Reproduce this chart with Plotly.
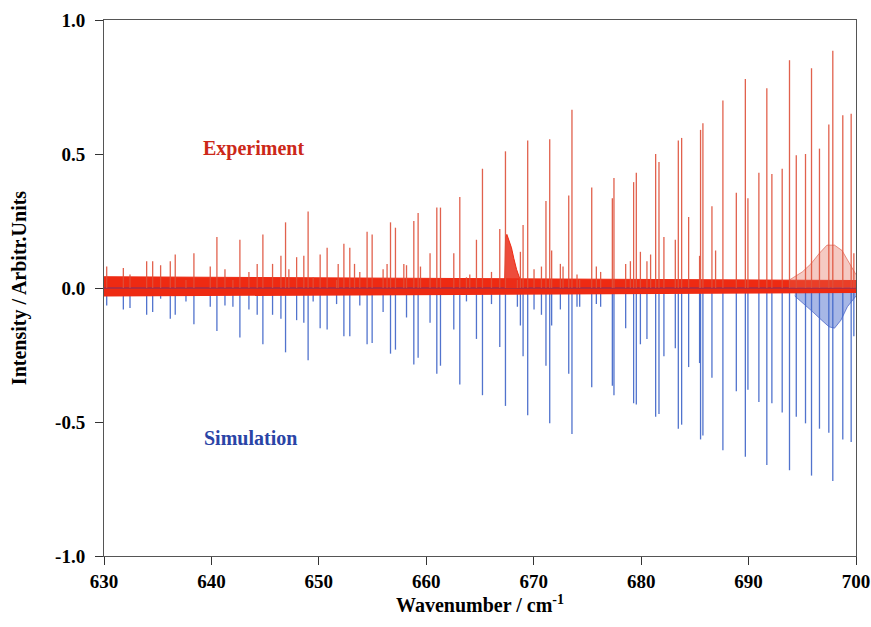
import plotly.graph_objects as go

# ---- data ----
peak_wavenumber = [
    630.25, 631.80, 632.42, 633.97, 634.53, 635.27, 636.17, 636.63, 637.63, 638.37,
    639.89, 640.51, 641.26, 642.00, 642.65, 643.49, 644.26, 644.79, 645.69, 646.47,
    646.90, 647.21, 647.93, 648.60, 649.00, 649.47, 650.12, 650.77, 651.65, 651.80,
    652.33, 652.88, 653.32, 653.81, 654.49, 654.96, 655.98, 656.35, 656.67, 657.13,
    657.91, 658.16, 658.84, 659.24, 659.46, 660.35, 660.98, 661.32, 662.56, 663.12,
    663.74, 664.05, 664.67, 665.23, 666.07, 666.84, 667.37, 668.48, 668.76, 669.01,
    669.44, 670.03, 670.72, 671.14, 671.49, 671.67, 672.48, 672.73, 673.26, 673.56,
    674.03, 674.28, 675.40, 675.83, 676.23, 677.32, 677.47, 678.56, 679.00, 679.30,
    679.55, 679.93, 680.54, 680.88, 681.35, 681.66, 682.12, 683.18, 683.46, 683.77,
    684.42, 685.44, 685.53, 685.75, 686.59, 686.93, 687.61, 688.86, 689.70, 689.94,
    690.96, 691.70, 692.17, 693.13, 693.81, 694.44, 695.30, 695.86, 696.60, 697.47,
    697.84, 698.77, 699.55, 699.80,
]
experiment_intensity = [
    0.08, 0.075, 0.05, 0.10, 0.10, 0.085, 0.10, 0.125, 0.03, 0.13,
    0.08, 0.19, 0.07, 0.03, 0.18, 0.06, 0.09, 0.20, 0.09, 0.12,
    0.245, 0.07, 0.115, 0.12, 0.285, 0.04, 0.125, 0.15, 0.03, 0.09,
    0.165, 0.15, 0.09, 0.06, 0.21, 0.20, 0.07, 0.09, 0.245, 0.225,
    0.09, 0.085, 0.25, 0.28, 0.08, 0.13, 0.30, 0.30, 0.13, 0.34,
    0.04, 0.05, 0.18, 0.445, 0.06, 0.22, 0.51, 0.03, 0.135, 0.235,
    0.55, 0.07, 0.08, 0.325, 0.555, 0.14, 0.09, 0.08, 0.345, 0.665,
    0.05, 0.03, 0.375, 0.08, 0.06, 0.335, 0.41, 0.09, 0.10, 0.395,
    0.43, 0.135, 0.10, 0.125, 0.50, 0.47, 0.19, 0.18, 0.55, 0.56,
    0.265, 0.12, 0.59, 0.615, 0.305, 0.14, 0.70, 0.355, 0.78, 0.335,
    0.43, 0.745, 0.425, 0.445, 0.85, 0.495, 0.50, 0.82, 0.52, 0.61,
    0.885, 0.645, 0.65, 0.13,
]
simulation_intensity = [
    -0.065, -0.08, -0.075, -0.10, -0.09, -0.04, -0.115, -0.10, -0.05, -0.135,
    -0.07, -0.16, -0.065, -0.07, -0.185, -0.08, -0.10, -0.21, -0.10, -0.115,
    -0.24, 0.0, -0.12, -0.13, -0.27, -0.05, -0.15, -0.155, -0.06, 0.0,
    -0.18, -0.18, 0.0, -0.065, -0.21, -0.205, -0.09, 0.0, -0.245, -0.23,
    0.0, -0.11, -0.285, -0.26, 0.0, -0.13, -0.32, -0.29, -0.155, -0.36,
    -0.05, 0.0, -0.19, -0.40, -0.06, -0.22, -0.44, -0.07, -0.14, -0.255,
    -0.475, -0.08, -0.10, -0.29, -0.505, -0.14, -0.08, 0.0, -0.32, -0.545,
    -0.07, -0.07, -0.37, -0.06, -0.07, -0.365, -0.40, -0.15, 0.0, -0.43,
    -0.435, -0.21, -0.19, 0.0, -0.48, -0.47, -0.255, -0.225, -0.525, -0.51,
    -0.295, -0.28, -0.565, -0.55, -0.335, 0.0, -0.605, -0.385, -0.63, -0.38,
    -0.425, -0.66, -0.43, -0.465, -0.68, -0.48, -0.505, -0.70, -0.525, -0.54,
    -0.72, -0.565, -0.575, -0.18,
]

# broad features (band heads)
exp_hump1_x = [667.30, 667.38, 667.50, 667.70, 667.93, 668.15, 668.40, 668.70]
exp_hump1_y = [0.03, 0.19, 0.20, 0.18, 0.15, 0.11, 0.07, 0.035]
exp_hump2_x = [693.8, 695.0, 695.8, 696.6, 697.3, 698.0, 698.7, 699.4, 700.0]
exp_hump2_y = [0.03, 0.06, 0.09, 0.13, 0.16, 0.16, 0.14, 0.09, 0.05]
sim_hump_x = [694.3, 695.2, 696.0, 696.8, 697.5, 698.0, 698.6, 699.2, 700.0]
sim_hump_y = [-0.03, -0.06, -0.09, -0.12, -0.145, -0.15, -0.12, -0.07, -0.03]

# experimental noise envelope
noise_x = [630, 640, 650, 660, 670, 680, 690, 700]
noise_upper = [0.042, 0.040, 0.038, 0.035, 0.033, 0.030, 0.028, 0.028]
noise_lower = [-0.032, -0.030, -0.028, -0.025, -0.023, -0.021, -0.019, -0.019]

x_ticks = [630, 640, 650, 660, 670, 680, 690, 700]
y_ticks = [-1.0, -0.5, 0.0, 0.5, 1.0]
y_tick_labels = ["-1.0", "-0.5", "0.0", "0.5", "1.0"]


def sticks(xs, ys):
    sx, sy = [], []
    for x, y in zip(xs, ys):
        if y == 0:
            continue
        sx += [x, x, None]
        sy += [0, y, None]
    return sx, sy


RED_STICK = "rgba(222,80,58,0.9)"
RED_BAND = "#ee2a12"
BLUE_STICK = "rgba(62,100,200,0.9)"

fig = go.Figure()

# simulation
fig.add_trace(go.Scatter(x=sim_hump_x, y=sim_hump_y, mode="lines", fill="tozeroy",
                         fillcolor="rgba(60,95,200,0.45)", line=dict(color="rgba(40,70,190,0.6)", width=1),
                         hoverinfo="skip"))
sx, sy = sticks(peak_wavenumber, simulation_intensity)
fig.add_trace(go.Scatter(x=sx, y=sy, mode="lines",
                         line=dict(color=BLUE_STICK, width=1.3), hoverinfo="skip"))

# experiment noise band
fig.add_trace(go.Scatter(x=noise_x, y=noise_lower, mode="lines",
                         line=dict(color=RED_BAND, width=0), hoverinfo="skip"))
fig.add_trace(go.Scatter(x=noise_x, y=noise_upper, mode="lines", fill="tonexty",
                         fillcolor=RED_BAND, line=dict(color=RED_BAND, width=1),
                         hoverinfo="skip"))
# blue baseline
fig.add_trace(go.Scatter(x=[630, 700], y=[0, 0], mode="lines",
                         line=dict(color="rgba(40,50,170,0.6)", width=1.2), hoverinfo="skip"))

# experiment humps and sticks
fig.add_trace(go.Scatter(x=exp_hump1_x, y=exp_hump1_y, mode="lines", fill="tozeroy",
                         fillcolor="rgba(235,45,25,0.85)", line=dict(color=RED_BAND, width=1),
                         hoverinfo="skip"))
fig.add_trace(go.Scatter(x=exp_hump2_x, y=exp_hump2_y, mode="lines", fill="tozeroy",
                         fillcolor="rgba(225,100,80,0.35)", line=dict(color="rgba(220,80,60,0.6)", width=1),
                         hoverinfo="skip"))
ex, ey = sticks(peak_wavenumber, experiment_intensity)
fig.add_trace(go.Scatter(x=ex, y=ey, mode="lines",
                         line=dict(color=RED_STICK, width=1.3), hoverinfo="skip"))

FONT = "Liberation Serif"

fig.add_annotation(x=643.9, y=0.52, text="Experiment", showarrow=False,
                   font=dict(family=FONT, size=20, color="#cc2818", weight="bold"))
fig.add_annotation(x=643.6, y=-0.56, text="Simulation", showarrow=False,
                   font=dict(family=FONT, size=20, color="#2a44a6", weight="bold"))

fig.update_layout(
    width=871, height=627,
    margin=dict(l=104, r=15, t=20, b=71, autoexpand=False),
    paper_bgcolor="white", plot_bgcolor="white",
    showlegend=False,
    font=dict(family=FONT, size=20, color="black"),
)
fig.update_xaxes(
    range=[630, 700], tickvals=x_ticks, ticks="outside", ticklen=8, tickcolor="#333",
    showline=True, linecolor="#555", linewidth=1, mirror=True, showgrid=False, zeroline=False,
    automargin=False,
    tickfont=dict(family=FONT, size=19, weight="bold"),
    title=dict(text="Wavenumber / cm<sup>-1</sup>", standoff=4,
               font=dict(family=FONT, size=20, weight="bold")),
)
fig.update_yaxes(
    range=[-1.0, 1.0], tickvals=y_ticks, ticktext=y_tick_labels, ticks="outside",
    ticklen=8, tickcolor="#333", ticklabelstandoff=6,
    showline=True, linecolor="#555", linewidth=1, mirror=True, showgrid=False, zeroline=False,
    automargin=False,
    tickfont=dict(family=FONT, size=19, weight="bold"),
    title=dict(text="Intensity / Arbitr.Units", standoff=23,
               font=dict(family=FONT, size=20, weight="bold")),
)

# remove the default page margin so the figure fills the 871x627 window exactly
fig.write_html("out.html", config={"displayModeBar": False},
               post_script="document.body.style.margin='0px';document.body.style.overflow='hidden';")
